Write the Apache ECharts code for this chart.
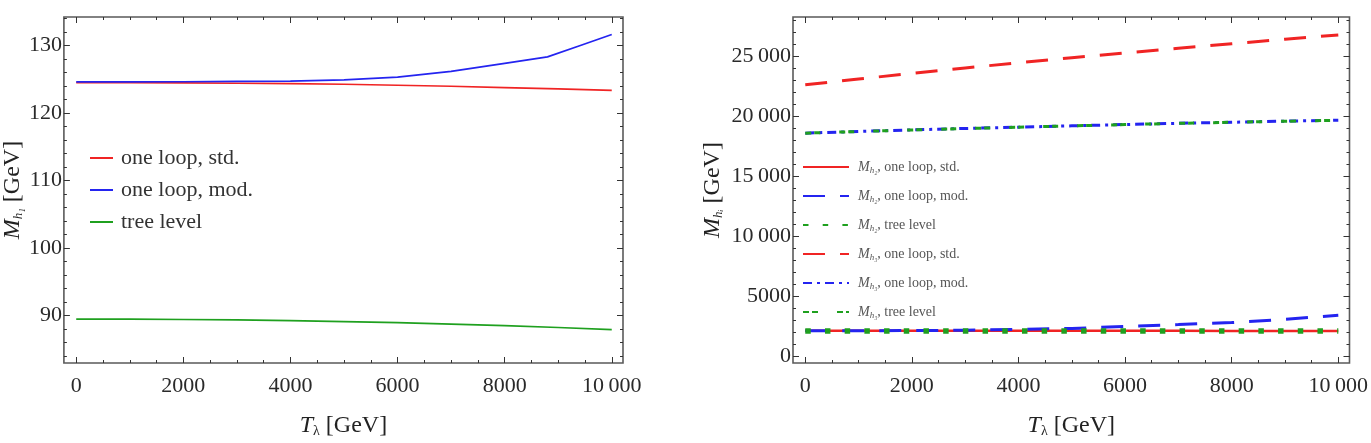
<!DOCTYPE html>
<html>
<head>
<meta charset="utf-8">
<script src="https://cdn.jsdelivr.net/npm/echarts@6/dist/echarts.min.js"></script>
<style>
  html, body { margin: 0; padding: 0; background: #fff; }
  #chart { width: 1371px; height: 443px; }
</style>
</head>
<body>
<div id="chart"></div>
<script>
// T_lambda grid (GeV)
const tLambda = [0, 1000, 2000, 3000, 4000, 5000, 6000, 7000, 8000, 9000, 10000];
const tLambdaMod = [0, 1000, 2000, 3000, 4000, 5000, 6000, 7000, 8000, 8800, 9400, 10000];

// left panel: M_h1
const mh1OneLoopStd = [124.5, 124.5, 124.45, 124.4, 124.33, 124.25, 124.1, 123.95, 123.75, 123.55, 123.35];
const mh1OneLoopMod = [124.6, 124.6, 124.62, 124.66, 124.72, 124.9, 125.3, 126.15, 127.35, 128.3, 129.95, 131.6];
const mh1Tree = [89.5, 89.48, 89.44, 89.37, 89.27, 89.12, 88.96, 88.75, 88.52, 88.25, 87.95];

// right panel: M_h2, M_h3
const mh2OneLoopStd = [2090, 2090, 2090, 2090, 2088, 2086, 2085, 2084, 2082, 2080, 2080];
const mh2OneLoopMod = [2090, 2095, 2110, 2140, 2200, 2290, 2450, 2610, 2780, 3050, 3390];
const mh2Tree = [2080, 2080, 2080, 2080, 2080, 2080, 2080, 2080, 2080, 2080, 2080];
const mh3OneLoopStd = [22640, 23120, 23590, 24040, 24480, 24900, 25300, 25690, 26070, 26440, 26800];
const mh3OneLoopMod = [18600, 18740, 18870, 18990, 19100, 19210, 19320, 19420, 19510, 19600, 19680];
const mh3Tree = [18600, 18735, 18865, 18985, 19095, 19205, 19315, 19415, 19505, 19595, 19675];

// ticks
const xTicks = [0, 2000, 4000, 6000, 8000, 10000];
const leftYTicks = [90, 100, 110, 120, 130];
const rightYTicks = [0, 5000, 10000, 15000, 20000, 25000];

const range = (a, b, s) => { let r = []; for (let v = a; v <= b + 1e-9; v += s) r.push(v); return r; };
const xMinor = range(0, 10000, 500);
const leftYMinor = range(84, 134, 2);
const rightYMinor = range(0, 28000, 1000);

const RED = '#f02424', BLUE = '#2424f0', GREEN = '#1fa01f';
const FONT = 'Liberation Serif';

const fmt = v => v >= 10000 ? String(v).replace(/(\d+)(\d{3})$/, '$1\u2009$2') : String(v);
const pairs = (xs, ys) => xs.map((x, i) => [x, ys[i]]);

function tickAxis(grid, pos, min, max, values, len, labels) {
  return {
    type: 'value', gridIndex: grid, position: pos, min: min, max: max,
    axisLine: { show: false, onZero: false },
    splitLine: { show: false },
    axisTick: { show: true, inside: true, length: len, customValues: values,
      lineStyle: { color: '#333', width: 1 } },
    axisLabel: labels ? {
      show: true, customValues: values, formatter: fmt,
      fontFamily: FONT, fontSize: 22, color: '#2a2a2a',
      margin: (pos === 'bottom') ? 12 : 2
    } : { show: false }
  };
}

const xName = {
  name: '{i|T}{s|λ} [GeV]', nameLocation: 'middle', nameGap: 51,
  nameTextStyle: { fontFamily: FONT, fontSize: 24, color: '#222',
    rich: { i: { fontFamily: FONT, fontStyle: 'italic', fontSize: 24, color: '#222' },
            s: { fontFamily: FONT, fontSize: 14, color: '#222', padding: [10, 0, 0, 0] } } }
};
function yName(sub, gap) {
  return {
    name: '{i|M}{s|' + sub + '} [GeV]', nameLocation: 'middle', nameGap: gap, nameRotate: 90,
    nameTextStyle: { fontFamily: FONT, fontSize: 24, color: '#222',
      rich: { i: { fontFamily: FONT, fontStyle: 'italic', fontSize: 24, color: '#222' },
              s: { fontFamily: FONT, fontStyle: 'italic', fontSize: 13, color: '#222', padding: [11, 0, 0, 0] } } }
  };
}

const xMin = -230, xMax = 10210;
const xAxes = [];
const yAxes = [];
[0, 1].forEach(g => {
  xAxes.push(Object.assign(tickAxis(g, 'bottom', xMin, xMax, xTicks, 6, true), xName));
  xAxes.push(tickAxis(g, 'bottom', xMin, xMax, xMinor, 3, false));
  xAxes.push(tickAxis(g, 'top', xMin, xMax, xTicks, 6, false));
  xAxes.push(tickAxis(g, 'top', xMin, xMax, xMinor, 3, false));
});
yAxes.push(Object.assign(tickAxis(0, 'left', 83, 134.2, leftYTicks, 6, true), yName('h₁', 34)));
yAxes.push(tickAxis(0, 'left', 83, 134.2, leftYMinor, 3, false));
yAxes.push(tickAxis(0, 'right', 83, 134.2, leftYTicks, 6, false));
yAxes.push(tickAxis(0, 'right', 83, 134.2, leftYMinor, 3, false));
yAxes.push(Object.assign(tickAxis(1, 'left', -600, 28300, rightYTicks, 6, true), yName('hᵢ', 68)));
yAxes.push(tickAxis(1, 'left', -600, 28300, rightYMinor, 3, false));
yAxes.push(tickAxis(1, 'right', -600, 28300, rightYTicks, 6, false));
yAxes.push(tickAxis(1, 'right', -600, 28300, rightYMinor, 3, false));

function line(name, xs, ys, color, width, type, xi, yi, z) {
  return {
    name: name, type: 'line', xAxisIndex: xi, yAxisIndex: yi,
    data: pairs(xs, ys), symbol: 'none', silent: true, z: z || 2,
    lineStyle: { color: color, width: width, type: type },
    itemStyle: { color: color }
  };
}

const LONG = [22, 15];
const series = [
  line('one loop, std.', tLambda, mh1OneLoopStd, RED, 1.7, 'solid', 0, 0),
  line('one loop, mod.', tLambdaMod, mh1OneLoopMod, BLUE, 1.7, 'solid', 0, 0),
  line('tree level', tLambda, mh1Tree, GREEN, 1.7, 'solid', 0, 0),

  line('h2std', tLambda, mh2OneLoopStd, RED, 2.5, 'solid', 4, 4, 2),
  line('h2mod', tLambda, mh2OneLoopMod, BLUE, 3, LONG, 4, 4, 3),
  line('h3std', tLambda, mh3OneLoopStd, RED, 3, LONG, 4, 4, 2),
  line('h3mod', tLambda, mh3OneLoopMod, BLUE, 3, [9, 5, 3, 5], 4, 4, 2),
  line('h3tree', tLambda, mh3Tree, GREEN, 3, [6, 3, 6, 19], 4, 4, 3),
  line('h2tree', tLambda, mh2Tree, GREEN, 5.5, [5.5, 14.2], 4, 4, 4)
];

const rightLabels = {
  h2std: ['h₂', 'one loop, std.'],
  h2mod: ['h₂', 'one loop, mod.'],
  h2tree: ['h₂', 'tree level'],
  h3std: ['h₃', 'one loop, std.'],
  h3mod: ['h₃', 'one loop, mod.'],
  h3tree: ['h₃', 'tree level']
};

const chart = echarts.init(document.getElementById('chart'), null, { renderer: 'canvas' });
chart.setOption({
  backgroundColor: '#fff',
  animation: false,
  grid: [
    { left: 63, top: 17, width: 560, height: 347, show: true, borderColor: '#5a5a5a', borderWidth: 1.6, backgroundColor: 'transparent' },
    { left: 793, top: 17, width: 560, height: 347, show: true, borderColor: '#5a5a5a', borderWidth: 1.6, backgroundColor: 'transparent' }
  ],
  legend: [
    {
      data: ['one loop, std.', 'one loop, mod.', 'tree level'],
      orient: 'vertical', left: 84, top: 142, itemWidth: 23, itemHeight: 14, itemGap: 10,
      selectedMode: false,
      itemStyle: { opacity: 0 },
      textStyle: { fontFamily: FONT, fontSize: 22, color: '#333', padding: [0, 0, 0, 3] }
    },
    {
      data: ['h2std', 'h2mod', 'h2tree', 'h3std', 'h3mod', 'h3tree'],
      orient: 'vertical', left: 797, top: 155, itemWidth: 46, itemHeight: 14, itemGap: 14,
      selectedMode: false,
      itemStyle: { opacity: 0 },
      formatter: n => '{i|M}{s|' + rightLabels[n][0] + '}{t|, ' + rightLabels[n][1] + '}',
      textStyle: { fontFamily: FONT, fontSize: 14, color: '#555', padding: [0, 0, 0, 4],
        rich: {
          i: { fontFamily: FONT, fontStyle: 'italic', fontSize: 14, color: '#555' },
          s: { fontFamily: FONT, fontStyle: 'italic', fontSize: 9, color: '#555', padding: [7, 0, 0, 0] },
          t: { fontFamily: FONT, fontSize: 14, color: '#555' }
        } }
    }
  ],
  xAxis: xAxes,
  yAxis: yAxes,
  series: series
});
</script>
</body>
</html>
